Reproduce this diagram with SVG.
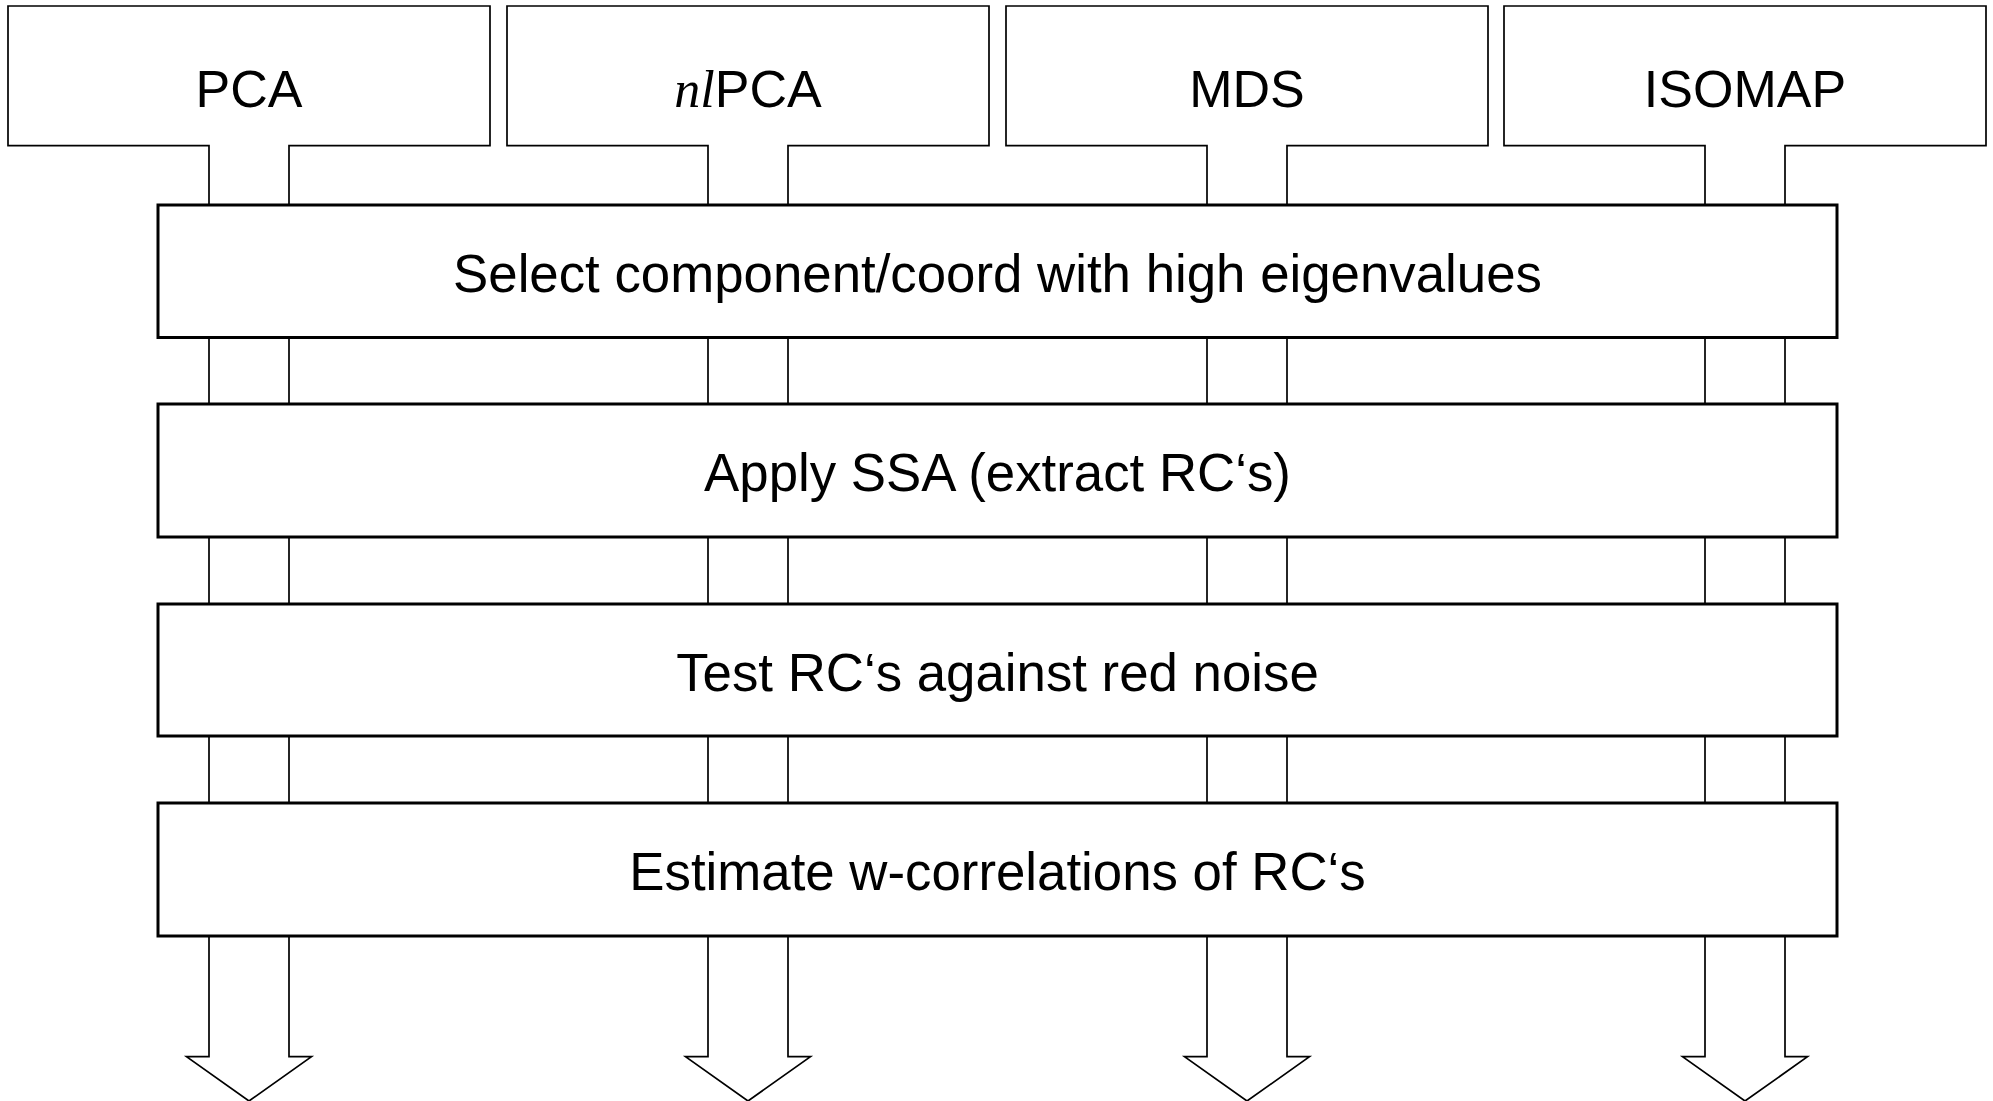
<svg xmlns="http://www.w3.org/2000/svg" width="1993" height="1101" viewBox="0 0 1993 1101">
<style>
.top{fill:#fff;stroke:#000;stroke-width:1.7}
.proc{fill:#fff;stroke:#000;stroke-width:3}
.stem{fill:none;stroke:#000;stroke-width:1.7}
.arr{fill:#fff;stroke:#000;stroke-width:1.7;stroke-linejoin:miter}
text{font-family:"Liberation Sans",Arial,sans-serif;font-size:52px;fill:#000;text-anchor:middle}
.pt{font-size:52.8px}
.it{font-family:"Liberation Serif","Times New Roman",serif;font-style:italic}
</style>
<rect width="1993" height="1101" fill="#fff"/>
<g id="connectors">
<path class="stem" d="M209,337.5V404M289,337.5V404M708,337.5V404M788,337.5V404M1207,337.5V404M1287,337.5V404M1705,337.5V404M1785,337.5V404"/>
<path class="stem" d="M209,537V604M289,537V604M708,537V604M788,537V604M1207,537V604M1287,537V604M1705,537V604M1785,537V604"/>
<path class="stem" d="M209,736V803M289,736V803M708,736V803M788,736V803M1207,736V803M1287,736V803M1705,736V803M1785,736V803"/>
<path class="arr" d="M209,936V1056.7H186.5L249,1101L311.5,1056.7H289V936"/>
<path class="arr" d="M708,936V1056.7H685.5L748,1101L810.5,1056.7H788V936"/>
<path class="arr" d="M1207,936V1056.7H1184.5L1247,1101L1309.5,1056.7H1287V936"/>
<path class="arr" d="M1705,936V1056.7H1682.5L1745,1101L1807.5,1056.7H1785V936"/>
</g>
<g id="node-pca">
<path class="top" d="M209,205V145.7H8V6H490V145.7H289V205"/>
<text x="249" y="107">PCA</text>
</g>
<g id="node-nlpca">
<path class="top" d="M708,205V145.7H507V6H989V145.7H788V205"/>
<text x="748" y="107"><tspan class="it">nl</tspan>PCA</text>
</g>
<g id="node-mds">
<path class="top" d="M1207,205V145.7H1006V6H1488V145.7H1287V205"/>
<text x="1247" y="107">MDS</text>
</g>
<g id="node-isomap">
<path class="top" d="M1705,205V145.7H1504V6H1986V145.7H1785V205"/>
<text x="1745" y="107">ISOMAP</text>
</g>
<g id="node-select">
<rect class="proc" x="158" y="205" width="1679" height="132.5"/>
<text class="pt" x="997.5" y="292">Select component/coord with high eigenvalues</text>
</g>
<g id="node-ssa">
<rect class="proc" x="158" y="404" width="1679" height="133"/>
<text class="pt" x="997.5" y="491">Apply SSA (extract RC‘s)</text>
</g>
<g id="node-test">
<rect class="proc" x="158" y="604" width="1679" height="132"/>
<text class="pt" x="997.5" y="690.5">Test RC‘s against red noise</text>
</g>
<g id="node-estimate">
<rect class="proc" x="158" y="803" width="1679" height="133"/>
<text class="pt" x="997.5" y="890">Estimate w-correlations of RC‘s</text>
</g>
</svg>
